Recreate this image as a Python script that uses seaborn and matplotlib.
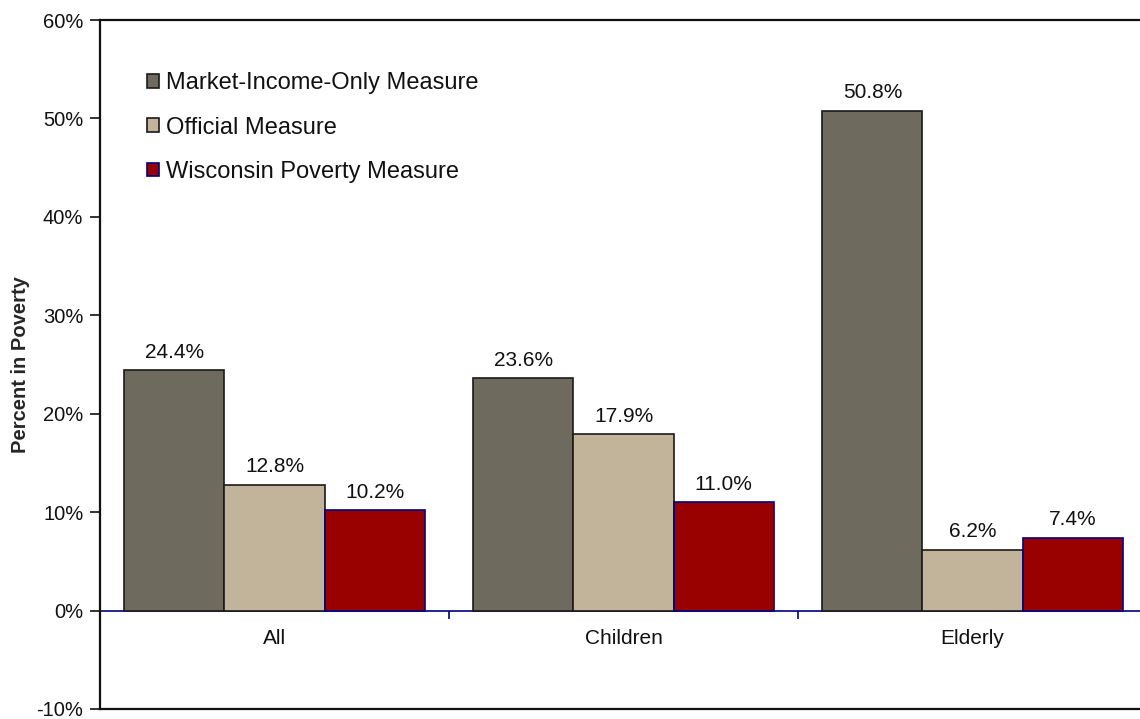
import matplotlib
matplotlib.use("Agg")
import pandas as pd
import matplotlib.pyplot as plt
import seaborn as sns
from matplotlib.patches import Patch
from matplotlib.ticker import PercentFormatter, FixedLocator

# data
groups = ["All", "Children", "Elderly"]
measures = ["Market-Income-Only Measure", "Official Measure", "Wisconsin Poverty Measure"]
market_only = [24.4, 23.6, 50.8]
official = [12.8, 17.9, 6.2]
wisconsin = [10.2, 11.0, 7.4]

fills = ["#6E6B5E", "#C2B49A", "#990000"]
edges = ["#1a1a1a", "#1a1a1a", "#000080"]

df = pd.DataFrame({
    "group": groups * 3,
    "measure": [m for m in measures for _ in groups],
    "value": market_only + official + wisconsin,
})

sns.set_style("white")
plt.rcParams["font.family"] = ["Liberation Sans", "DejaVu Sans"]
plt.rcParams["axes.unicode_minus"] = False

fig = plt.figure(figsize=(11.4, 7.19), dpi=100)
ax = fig.add_axes([100 / 1140, 10 / 719, 1047 / 1140, 689 / 719])

sns.barplot(data=df, x="group", y="value", hue="measure", hue_order=measures,
            order=groups, palette=fills, width=0.86, ax=ax, legend=False,
            saturation=1)

for cont, ec in zip(ax.containers, edges):
    for bar in cont:
        bar.set_edgecolor(ec)
        bar.set_linewidth(1.2)
    ax.bar_label(cont, fmt="%.1f%%", padding=6, fontsize=15, color="#111111")

ax.set_xlim(-0.5, 2.5)
ax.set_ylim(-10, 60)
ax.set_yticks(range(-10, 61, 10))
ax.yaxis.set_major_formatter(PercentFormatter(decimals=0))
ax.tick_params(axis="y", direction="out", length=7, width=1.2, color="#111111",
               labelsize=14.5, pad=5, left=True, labelcolor="#111111")
ax.set_ylabel("Percent in Poverty", fontsize=14.5, fontweight="bold")
ax.yaxis.set_label_coords(-0.067, 0.5)
ax.set_xlabel("")
ax.set_xticks([])

for side in ["left", "bottom", "top"]:
    ax.spines[side].set_color("#111111")
    ax.spines[side].set_linewidth(1.6)
ax.spines["right"].set_visible(False)

# category axis sitting on the zero line
sec = ax.secondary_xaxis(10 / 70)
sec.set_xticks(range(len(groups)))
sec.set_xticklabels(groups, fontsize=15, color="#111111")
sec.xaxis.set_minor_locator(FixedLocator([0.5, 1.5]))
sec.tick_params(axis="x", which="major", length=0, pad=13)
sec.tick_params(axis="x", which="minor", length=6, width=1.2, color="#000080", direction="out")
sec.spines["bottom"].set_color("#000080")
sec.spines["bottom"].set_linewidth(1.2)
for s in ["top", "left", "right"]:
    sec.spines[s].set_visible(False)

handles = [Patch(facecolor=f, edgecolor=e, linewidth=1.2) for f, e in zip(fills, edges)]
ax.legend(handles, measures, loc="upper left", bbox_to_anchor=(0.036, 0.938),
          frameon=False, fontsize=17, handlelength=0.5, handleheight=0.5,
          handletextpad=0.3, labelspacing=0.95, borderaxespad=0, labelcolor="#111111")

fig.savefig("out.png", dpi=100)
